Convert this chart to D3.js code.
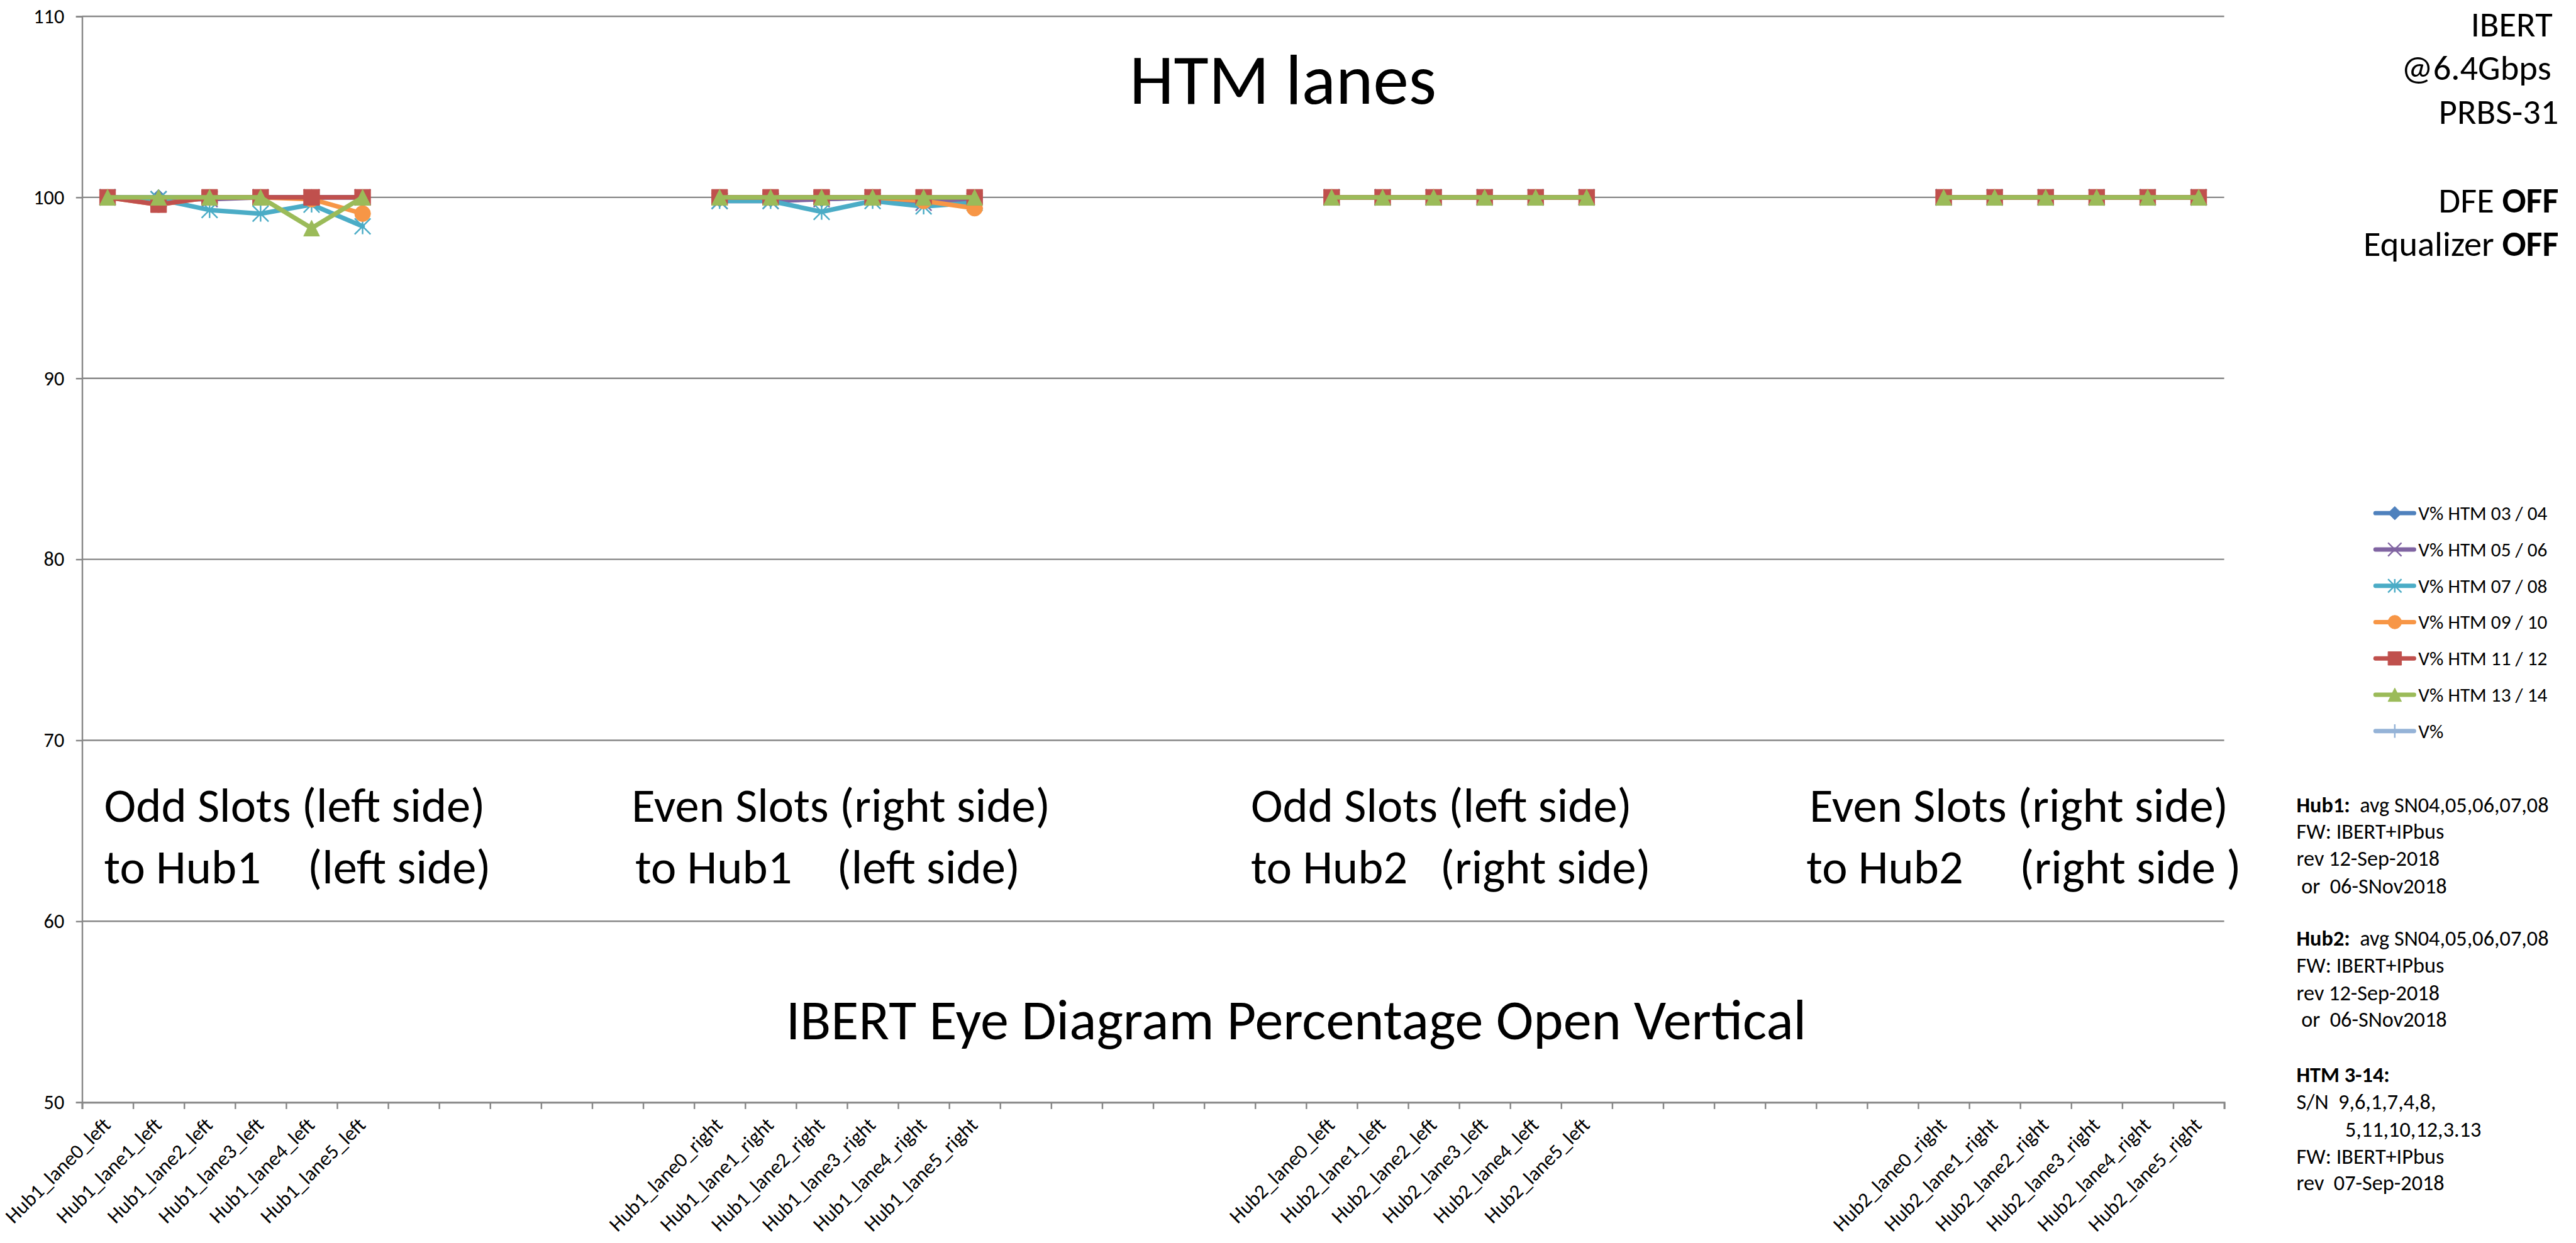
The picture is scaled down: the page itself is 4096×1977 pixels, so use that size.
<!DOCTYPE html>
<html><head><meta charset="utf-8">
<script src="https://cdn.jsdelivr.net/npm/d3@7/dist/d3.min.js"></script>
<style>
html,body{margin:0;padding:0;background:#fff;overflow:hidden}
text{font-family:Carlito,Calibri,Lato,sans-serif;white-space:pre;fill:#000}
</style>
</head><body><svg id="chart" width="4096" height="1977"></svg>
<script>
const N = null;
const categories = [
 "Hub1_lane0_left","Hub1_lane1_left","Hub1_lane2_left","Hub1_lane3_left","Hub1_lane4_left","Hub1_lane5_left",
 "","","","","","",
 "Hub1_lane0_right","Hub1_lane1_right","Hub1_lane2_right","Hub1_lane3_right","Hub1_lane4_right","Hub1_lane5_right",
 "","","","","","",
 "Hub2_lane0_left","Hub2_lane1_left","Hub2_lane2_left","Hub2_lane3_left","Hub2_lane4_left","Hub2_lane5_left",
 "","","","","","",
 "Hub2_lane0_right","Hub2_lane1_right","Hub2_lane2_right","Hub2_lane3_right","Hub2_lane4_right","Hub2_lane5_right"
];
const vHTM0304 = [100,100,100,100,100,100, N,N,N,N,N,N, 99.9,99.9,99.9,100,99.9,99.9, N,N,N,N,N,N, 100,100,100,100,100,100, N,N,N,N,N,N, 100,100,100,100,100,100];
const vHTM0506 = [100,99.9,99.9,100,100,100, N,N,N,N,N,N, 99.8,99.8,99.9,100,99.7,99.8, N,N,N,N,N,N, 100,100,100,100,100,100, N,N,N,N,N,N, 100,100,100,100,100,100];
const vHTM0708 = [100,99.9,99.3,99.1,99.6,98.4, N,N,N,N,N,N, 99.8,99.8,99.2,99.8,99.5,99.7, N,N,N,N,N,N, 100,100,100,100,100,100, N,N,N,N,N,N, 100,100,100,100,100,100];
const vHTM0910 = [100,99.6,100,100,99.9,99.1, N,N,N,N,N,N, 100,100,100,100,99.8,99.4, N,N,N,N,N,N, 100,100,100,100,100,100, N,N,N,N,N,N, 100,100,100,100,100,100];
const vHTM1112 = [100,99.6,100,100,100,100, N,N,N,N,N,N, 100,100,100,100,100,100, N,N,N,N,N,N, 100,100,100,100,100,100, N,N,N,N,N,N, 100,100,100,100,100,100];
const vHTM1314 = [100,100,100,100,98.3,100, N,N,N,N,N,N, 100,100,100,100,100,100, N,N,N,N,N,N, 100,100,100,100,100,100, N,N,N,N,N,N, 100,100,100,100,100,100];
const vAll = [N,N,N,N,N,N, N,N,N,N,N,N, N,N,N,N,N,N, N,N,N,N,N,N, N,N,N,N,N,N, N,N,N,N,N,N, N,N,N,N,N,N];
const seriesNames = ["V% HTM 03 / 04","V% HTM 05 / 06","V% HTM 07 / 08","V% HTM 09 / 10","V% HTM 11 / 12","V% HTM 13 / 14","V%"];
const seriesValues = [vHTM0304,vHTM0506,vHTM0708,vHTM0910,vHTM1112,vHTM1314,vAll];
const yTicks = [50,60,70,80,90,100,110];

const seriesColors = ["#4F81BD","#8064A2","#4BACC6","#F79646","#C0504D","#9BBB59","#95B3D7"];
const seriesMarkers = ["diamond","x","star","circle","square","triangle","plus"];

const svg = d3.select("#chart");
const g = svg.append("g").attr("transform","scale(0.974)");

// font calibration (Calibri-like metrics)
const probe = g.append("text").attr("font-size",100).text("Hub1_lane0_left");
const K = 698 / probe.node().getComputedTextLength();
probe.remove();
const fs = s => s*K;
function fit(sel, w){ const cur=+sel.attr("font-size"); const m=sel.node().getComputedTextLength(); sel.attr("font-size",cur*w/m); return cur*w/m; }

const X0=134, X1=3631, Y0=1800, Y1=26.7;
const x = d3.scaleBand().domain(d3.range(categories.length)).range([X0,X1]).padding(0);
const xb = d3.scaleLinear().domain([0,categories.length]).range([X0,X1]);
const y = d3.scaleLinear().domain([50,110]).range([Y0,Y1]);
const GRID="#878787";

// gridlines
g.append("g").selectAll("line").data(yTicks.filter(v=>v>50)).join("line")
 .attr("x1",X0).attr("x2",X1).attr("y1",d=>y(d)).attr("y2",d=>y(d))
 .attr("stroke",GRID).attr("stroke-width",2.5);

// y axis
const ya = g.append("g").attr("transform",`translate(${X0},0)`)
 .call(d3.axisLeft(y).tickValues(yTicks).tickSize(10).tickPadding(19).tickFormat(d3.format("d")));
ya.select(".domain").attr("stroke",GRID).attr("stroke-width",2.5);
ya.selectAll(".tick line").attr("stroke",GRID).attr("stroke-width",2.5);
ya.selectAll(".tick text").attr("font-family",null).attr("font-size",fs(32)).attr("fill","#000");

// x axis tick marks (between categories)
const xt = g.append("g").attr("transform",`translate(0,${Y0})`)
 .call(d3.axisBottom(xb).tickValues(d3.range(categories.length+1)).tickSize(11).tickFormat(""));
xt.select(".domain").attr("stroke",GRID).attr("stroke-width",3);
xt.selectAll(".tick line").attr("stroke",GRID).attr("stroke-width",2.5);

// x axis labels
const xl = g.append("g").attr("transform",`translate(0,${Y0})`)
 .call(d3.axisBottom(x).tickSize(0).tickFormat(i=>categories[i]));
xl.select(".domain").remove();
xl.selectAll(".tick text").attr("font-family",null).attr("font-size",fs(32.5)).attr("fill","#000")
 .attr("y",0).attr("dy",0).attr("text-anchor","end")
 .attr("transform","translate(7,39) rotate(-45)");

// markers
function markerPath(type,s){
 const h=s/2;
 switch(type){
  case "diamond": return `M0,${-h}L${h},0L0,${h}L${-h},0Z`;
  case "square": return `M${-h},${-h}H${h}V${h}H${-h}Z`;
  case "triangle": return `M0,${-h}L${h},${h}L${-h},${h}Z`;
  case "circle": return d3.symbol(d3.symbolCircle, Math.PI*h*h)();
  case "x": return `M${-h},${-h}L${h},${h}M${h},${-h}L${-h},${h}`;
  case "star": return `M${-h},${-h}L${h},${h}M${h},${-h}L${-h},${h}M0,${-h}V${h}`;
  case "plus": return `M0,${-h}V${h}M${-h},0H${h}`;
 }
}
const filled = t => ["diamond","square","triangle","circle"].includes(t);
function drawMarker(sel,type,color,s){
 sel.attr("d",markerPath(type,s))
  .attr("fill",filled(type)?color:"none")
  .attr("stroke",color).attr("stroke-width",filled(type)?1:2.5);
}

const line = d3.line().defined(d=>d.v!=null).x(d=>x(d.i)+x.bandwidth()/2).y(d=>y(d.v));
seriesValues.forEach((vals,k)=>{
 const pts = vals.map((v,i)=>({i,v}));
 const sg = g.append("g");
 sg.append("path").attr("d",line(pts)).attr("fill","none")
  .attr("stroke",seriesColors[k]).attr("stroke-width",7.5)
  .attr("stroke-linejoin","round").attr("stroke-linecap","round");
 sg.selectAll("path.m").data(pts.filter(d=>d.v!=null)).join("path").attr("class","m")
  .attr("transform",d=>`translate(${x(d.i)+x.bandwidth()/2},${y(d.v)})`)
  .each(function(){ drawMarker(d3.select(this),seriesMarkers[k],seriesColors[k],26); });
});

// legend
const lg = g.append("g");
seriesNames.forEach((name,k)=>{
 const ly = 838 + k*59.3;
 lg.append("line").attr("x1",3878).attr("x2",3941).attr("y1",ly).attr("y2",ly)
  .attr("stroke",seriesColors[k]).attr("stroke-width",7).attr("stroke-linecap","round");
 lg.append("path").attr("transform",`translate(3909.5,${ly})`)
  .call(s=>drawMarker(s,seriesMarkers[k],seriesColors[k],22));
 lg.append("text").attr("x",3948).attr("y",ly).attr("dy","0.35em").attr("font-size",fs(31)).text(name);
});

// titles
const t1 = g.append("text").attr("x",1844).attr("y",169).attr("font-size",100).text("HTM lanes");
fit(t1,501);
const t2 = g.append("text").attr("x",1283).attr("y",1697).attr("font-size",100).text("IBERT Eye Diagram Percentage Open Vertical");
fit(t2,1666);

// group annotations
const probe2 = g.append("text").attr("font-size",100).text("Odd Slots (left side)");
const gfs = fit(probe2,622); probe2.remove();
const groupText = [
 [170,"Odd Slots (left side)",170,"to Hub1",502,"(left side)"],
 [1031,"Even Slots (right side)",1037,"to Hub1",1366,"(left side)"],
 [2042,"Odd Slots (left side)",2042,"to Hub2",2351,"(right side)"],
 [2954,"Even Slots (right side)",2949,"to Hub2",3297,"(right side )"]
];
groupText.forEach(r=>{
 g.append("text").attr("x",r[0]).attr("y",1342).attr("font-size",gfs).text(r[1]);
 g.append("text").attr("x",r[2]).attr("y",1442).attr("font-size",gfs).text(r[3]);
 g.append("text").attr("x",r[4]).attr("y",1442).attr("font-size",gfs).text(r[5]);
});

// right top info
const rt = [[4167,60,"IBERT",""],[4165,130,"@6.4Gbps",""],[4177,202,"PRBS-31",""],[4177,347,"DFE ","OFF"],[4177,418,"Equalizer ","OFF"]];
rt.forEach(r=>{
 const t = g.append("text").attr("x",r[0]).attr("y",r[1]).attr("text-anchor","end").attr("font-size",fs(56));
 t.append("tspan").text(r[2]);
 if(r[3]) t.append("tspan").attr("font-weight","bold").text(r[3]);
});

// notes
const notes = [
 [1326,[["Hub1:",true],["  avg SN04,05,06,07,08",false]]],
 [1370,[["FW: IBERT+IPbus",false]]],
 [1414,[["rev 12-Sep-2018",false]]],
 [1459,[[" or  06-SNov2018",false]]],
 [1544,[["Hub2:",true],["  avg SN04,05,06,07,08",false]]],
 [1588,[["FW: IBERT+IPbus",false]]],
 [1633,[["rev 12-Sep-2018",false]]],
 [1677,[[" or  06-SNov2018",false]]],
 [1767,[["HTM 3-14:",true]]],
 [1811,[["S/N  9,6,1,7,4,8,",false]]],
 [1856,[["          5,11,10,12,3.13",false]]],
 [1900,[["FW: IBERT+IPbus",false]]],
 [1944,[["rev  07-Sep-2018",false]]]
];
notes.forEach(r=>{
 const t = g.append("text").attr("x",3749).attr("y",r[0]).attr("font-size",fs(34));
 r[1].forEach(p=>t.append("tspan").attr("font-weight",p[1]?"bold":null).text(p[0]));
});
</script></body></html>
